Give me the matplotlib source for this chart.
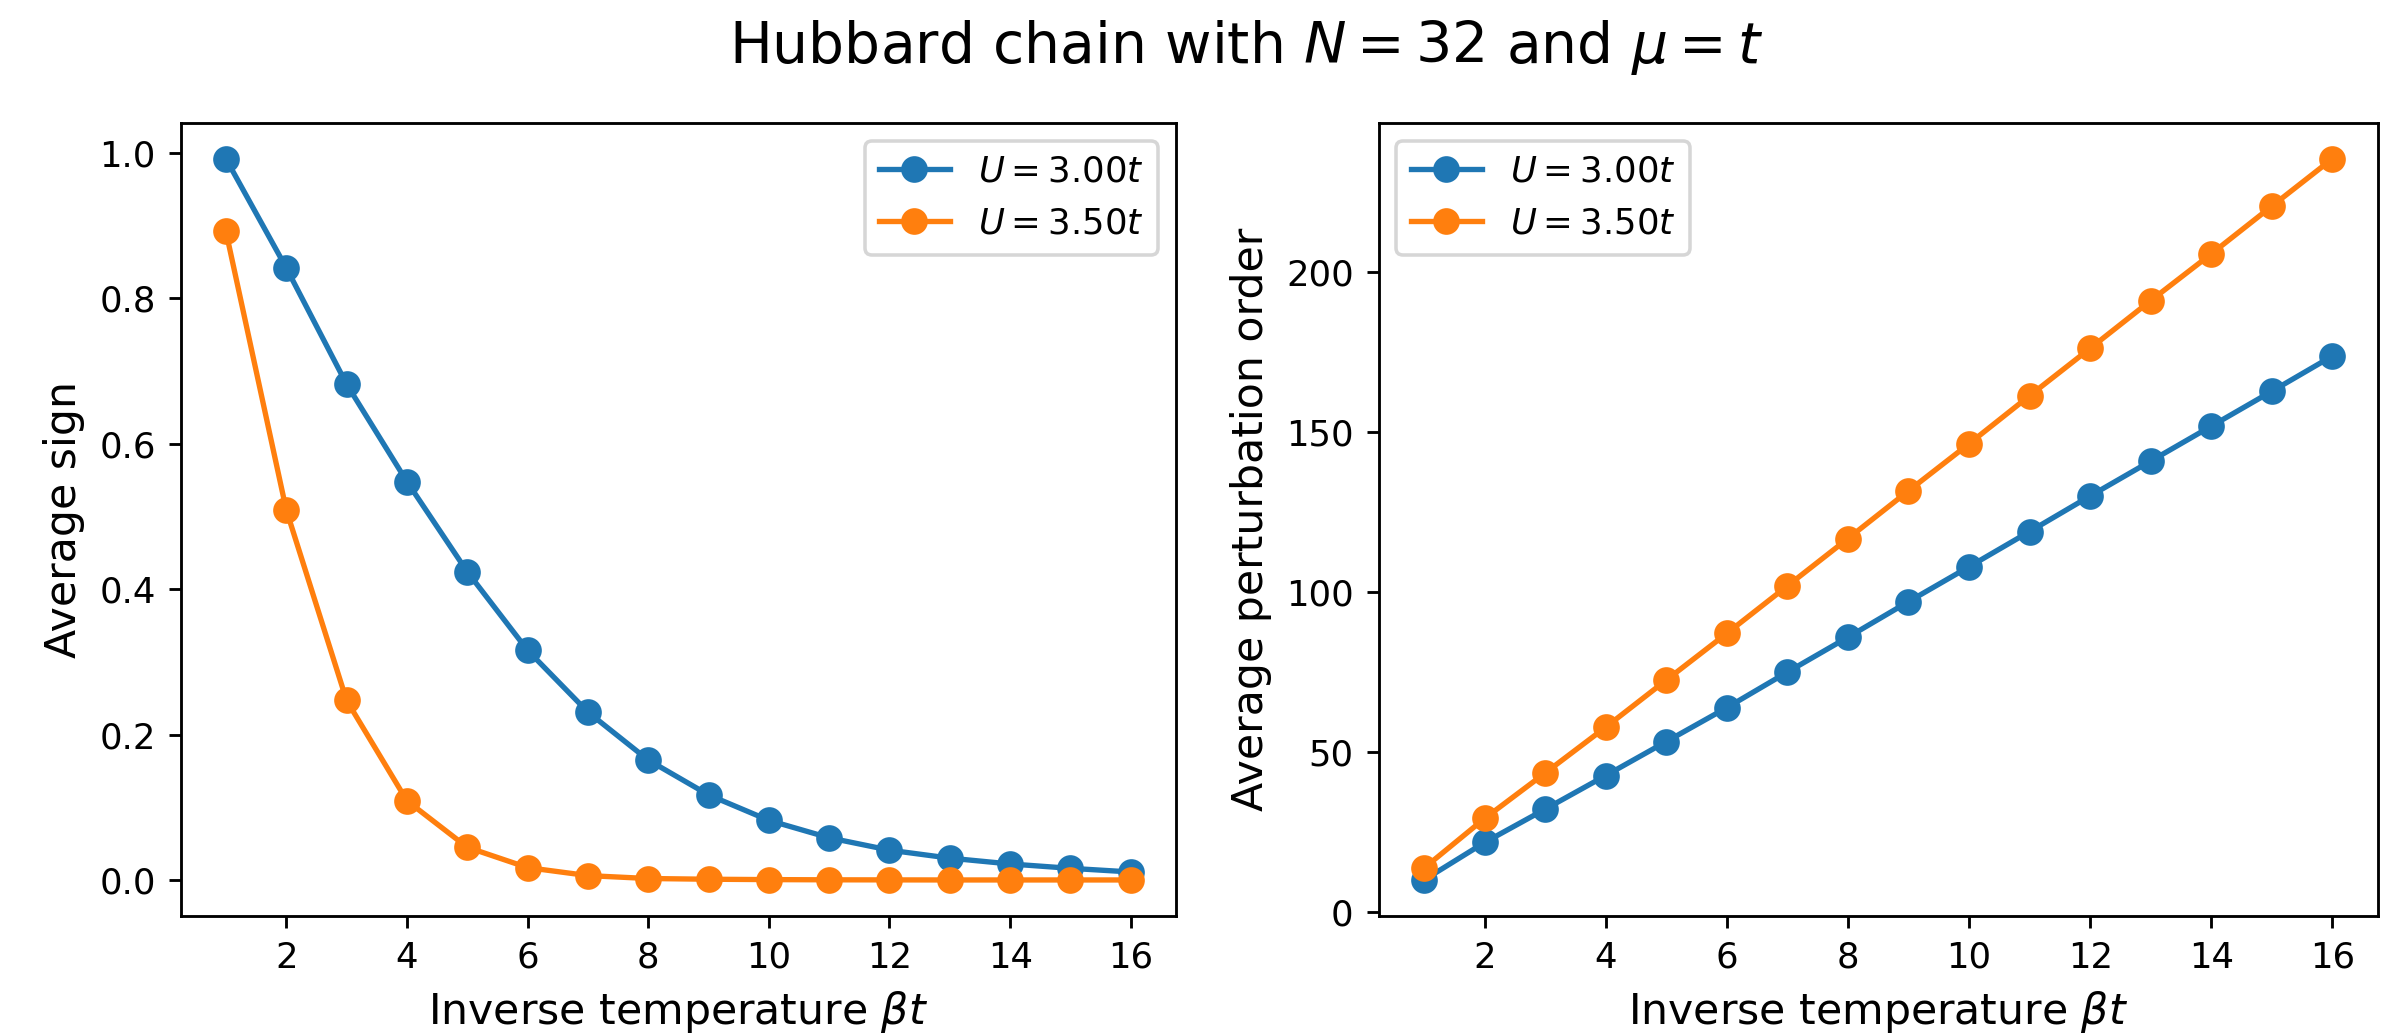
import matplotlib
matplotlib.use("Agg")
import matplotlib.pyplot as plt

beta = list(range(1, 17))
labels = [r"$U=3.00t$", r"$U=3.50t$"]

sign_U300 = [0.992, 0.842, 0.682, 0.548, 0.424, 0.316, 0.231, 0.165, 0.117, 0.082,
             0.058, 0.041, 0.030, 0.022, 0.016, 0.011]
sign_U350 = [0.892, 0.509, 0.247, 0.109, 0.045, 0.017, 0.006, 0.002, 0.001, 0.0005,
             0.0002, 0.0001, 0.0, 0.0, 0.0, 0.0]

order_U300 = [10.0, 21.7, 32.1, 42.6, 53.2, 63.8, 74.9, 85.8, 96.9, 107.8,
              118.8, 129.9, 140.8, 151.7, 162.6, 173.6]
order_U350 = [13.7, 29.2, 43.4, 57.7, 72.4, 87.0, 101.8, 116.6, 131.5, 146.2,
              161.2, 176.0, 190.9, 205.5, 220.4, 235.2]

DPI = 256
fig = plt.figure(figsize=(2403 / DPI, 1034 / DPI), dpi=DPI)
ax1 = fig.add_axes([0.0752, 0.1141, 0.4142, 0.7672])
ax2 = fig.add_axes([0.5737, 0.1141, 0.4158, 0.7672])

ms = 6.5
lw = 1.5
ax1.plot(beta, sign_U300, "o-", ms=ms, lw=lw, label=labels[0])
ax1.plot(beta, sign_U350, "o-", ms=ms, lw=lw, label=labels[1])
ax1.set_xlabel(r"Inverse temperature $\beta t$", fontsize=12)
ax1.set_ylabel("Average sign", fontsize=12)
ax1.legend(loc="upper right")

ax2.plot(beta, order_U300, "o-", ms=ms, lw=lw, label=labels[0])
ax2.plot(beta, order_U350, "o-", ms=ms, lw=lw, label=labels[1])
ax2.set_xlabel(r"Inverse temperature $\beta t$", fontsize=12)
ax2.set_ylabel("Average perturbation order", fontsize=12)
ax2.legend(loc="upper left")

for ax in (ax1, ax2):
    ax.set_xticks([2, 4, 6, 8, 10, 12, 14, 16])
    ax.tick_params(labelsize=10)

fig.suptitle(r"Hubbard chain with $N=32$ and $\mu=t$", fontsize=16,
             x=0.5185, y=1 - 63.3 / 1034, va="baseline")

fig.savefig("out.png", dpi=DPI)
